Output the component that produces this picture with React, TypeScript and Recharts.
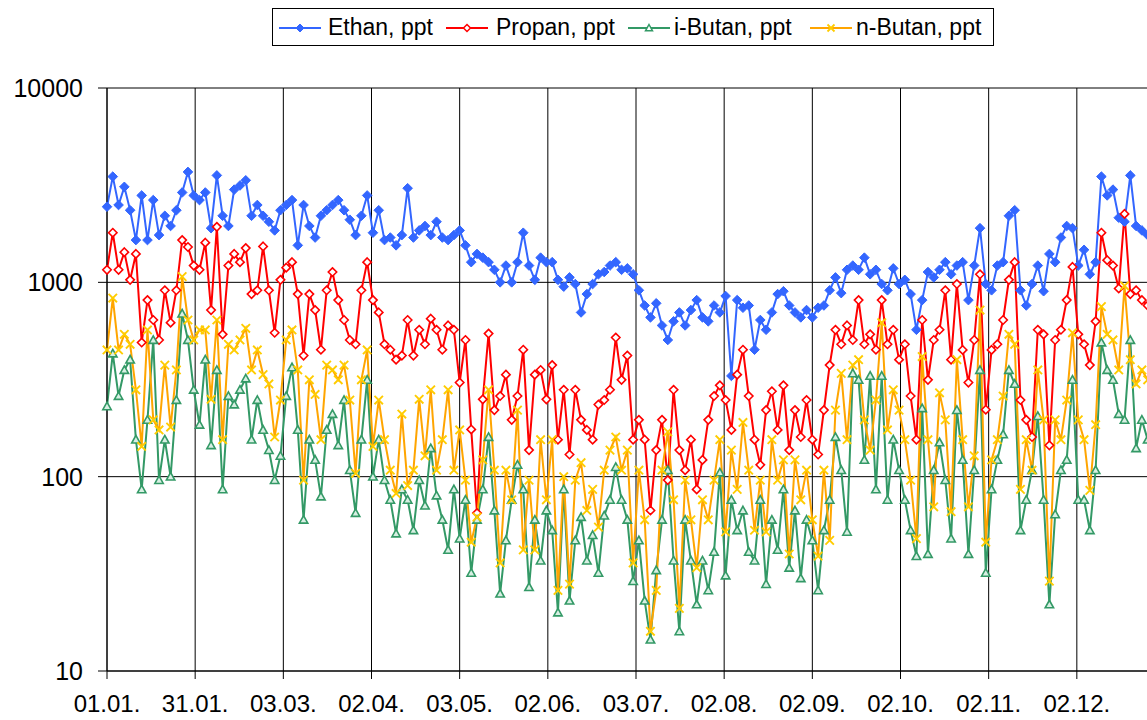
import React from 'react';
import { LineChart, Line, XAxis, YAxis, CartesianGrid } from 'recharts';

// axis ticks (Excel date axis, one tick every 30.5 days)
const TICK_DAYS = [0, 30.5, 61, 91.5, 122, 152.5, 183, 213.5, 244, 274.5, 305, 335.5];
const TICK_LABELS = ['01.01.', '31.01.', '03.03.', '02.04.', '03.05.', '02.06.', '03.07.', '02.08.', '02.09.', '02.10.', '02.11.', '02.12.'];
const Y_TICKS = [10, 100, 1000, 10000];

// values in ppt, one sample every 2 days from 01.01.
const ETHAN = [
  2450, 3500, 2500, 3100, 2350, 1650, 2800, 1650, 2650, 1750,
  2200, 1950, 2350, 2900, 3700, 2800, 2650, 2900, 1900, 3550,
  2200, 1950, 3000, 3150, 3350, 2200, 2500, 2200, 2050, 1850,
  2350, 2500, 2650, 1550, 2500, 1950, 1700, 2200, 2350, 2500,
  2650, 2350, 2100, 1750, 2200, 2800, 1800, 2350, 1650, 1700,
  1550, 1750, 3050, 1700, 1850, 1950, 1750, 2050, 1700, 1650,
  1750, 1850, 1550, 1270, 1400, 1340, 1270, 1160, 1000, 1220,
  1000, 1270, 1800, 1220, 1030, 1340, 1270, 1270, 1030, 950,
  1060, 980, 700, 870, 980, 1100, 1130, 1220, 1270, 1160,
  1180, 1100, 910, 760, 660, 780, 600, 505, 630, 700,
  600, 720, 810, 660, 630, 760, 700, 850, 330, 810,
  740, 760, 450, 640, 570, 700, 870, 900, 760, 700,
  660, 720, 660, 740, 760, 910, 1060, 880, 1160, 1220,
  1160, 1340, 1100, 1160, 980, 910, 1180, 980, 1030, 870,
  570, 810, 1130, 1060, 1160, 1270, 1100, 1220, 1270, 810,
  1220, 1900, 980, 910, 1220, 1270, 2200, 2350, 910, 760,
  980, 1220, 900, 1400, 1270, 1700, 1950, 1900, 1220, 1470,
  1100, 1270, 3500, 2800, 3000, 2150, 2050, 3550, 1950, 1850,
  1750,
];

const PROPAN = [
  1160, 1800, 1160, 1430, 1030, 1400, 490, 810, 640, 505,
  910, 620, 910, 1650, 1520, 1220, 1160, 1600, 720, 1930,
  540, 1220, 1400, 1270, 1500, 870, 910, 1530, 910, 550,
  1030, 1190, 1270, 870, 420, 870, 720, 450, 910, 1130,
  810, 640, 505, 480, 910, 1270, 810, 700, 480, 450,
  400, 420, 640, 420, 570, 480, 650, 570, 450, 600,
  570, 305, 505, 175, 65, 250, 545, 220, 260, 335,
  196, 260, 450, 137, 335, 354, 250, 375, 155, 280,
  130, 280, 196, 174, 155, 235, 248, 280, 520, 315,
  420, 155, 196, 155, 67, 137, 196, 96, 280, 137,
  108, 155, 86, 122, 196, 260, 295, 248, 174, 335,
  450, 260, 155, 115, 220, 275, 174, 295, 137, 220,
  160, 248, 155, 130, 220, 375, 570, 480, 600, 505,
  810, 480, 540, 450, 810, 480, 570, 400, 480, 260,
  155, 640, 315, 505, 570, 910, 400, 980, 449, 305,
  505, 1100, 221, 449, 480, 640, 1030, 1270, 248, 196,
  160, 570, 540, 145, 505, 570, 810, 1200, 540, 480,
  375, 630, 1800, 1300, 1220, 930, 2250, 870, 910, 810,
  760,
];

const IBUTAN = [
  230, 430, 260, 354, 400, 155, 86, 196, 505, 96,
  155, 100, 248, 690, 505, 280, 185, 400, 145, 354,
  86, 260, 235, 280, 320, 155, 248, 174, 137, 96,
  128, 260, 365, 174, 60, 155, 122, 79, 174, 210,
  145, 248, 108, 65, 155, 315, 100, 155, 96, 76,
  51, 86, 76, 53, 96, 71, 140, 80, 60, 42,
  86, 48, 76, 32, 60, 86, 160, 67, 25, 47,
  76, 115, 86, 27, 60, 37, 67, 53, 20, 86,
  23, 47, 62, 37, 50, 32, 63, 76, 112, 76,
  60, 29, 47, 23, 14.5, 33, 60, 108, 37, 16,
  60, 37, 22, 37, 26, 41, 105, 31, 76, 53,
  67, 41, 37, 76, 28, 60, 42, 86, 34, 67,
  30, 60, 47, 26, 53, 76, 160, 108, 52, 340,
  315, 122, 330, 86, 330, 76, 155, 108, 76, 53,
  39, 225, 40, 108, 150, 96, 48, 220, 122, 40,
  108, 354, 32, 86, 122, 165, 354, 300, 53, 76,
  108, 205, 76, 22, 64, 108, 122, 315, 76, 76,
  53, 108, 490, 354, 315, 210, 196, 505, 140, 196,
  155,
];

const NBUTAN = [
  449, 830, 449, 540, 480, 280, 143, 569, 196, 174,
  375, 180, 354, 1070, 640, 505, 569, 569, 250, 640,
  155, 480, 449, 505, 580, 354, 449, 335, 300, 160,
  248, 505, 569, 354, 96, 315, 265, 155, 375, 354,
  315, 375, 248, 104, 315, 449, 143, 248, 155, 108,
  82, 210, 90, 108, 250, 128, 280, 108, 155, 280,
  108, 174, 96, 46, 62, 122, 280, 108, 36, 108,
  76, 220, 42, 96, 42, 155, 76, 155, 26, 100,
  28, 96, 118, 67, 86, 55, 108, 137, 160, 108,
  137, 36, 108, 60, 16, 26, 108, 170, 76, 21,
  96, 60, 34, 76, 60, 96, 155, 52, 137, 86,
  190, 108, 53, 96, 52, 155, 96, 122, 40, 122,
  76, 108, 60, 39, 108, 47, 220, 340, 155, 375,
  400, 196, 137, 248, 620, 174, 280, 220, 155, 96,
  48, 415, 155, 70, 270, 196, 66, 400, 155, 70,
  128, 720, 46, 122, 155, 260, 540, 480, 86, 155,
  108, 354, 196, 29, 196, 155, 248, 550, 196, 155,
  85, 185, 750, 540, 505, 354, 960, 400, 300, 354,
  315,
];

const DAYS = ETHAN.map((_, i) => i * 2);

const data = DAYS.map((day, i) => ({
  day,
  ethan: ETHAN[i],
  propan: PROPAN[i],
  ibutan: IBUTAN[i],
  nbutan: NBUTAN[i],
}));

const FONT = '"Liberation Sans", Arial, sans-serif';

const BLUE = '#3366FF';
const RED = '#FF0000';
const GREEN = '#339966';
const ORANGE = '#FFA500';
const YELLOW = '#FFCC00';

const diamondPath = (cx: number, cy: number, r: number) =>
  `M${cx},${cy - r}L${cx + r},${cy}L${cx},${cy + r}L${cx - r},${cy}Z`;

const trianglePath = (cx: number, cy: number, r: number) =>
  `M${cx},${cy - r}L${cx + r},${cy + r * 0.8}L${cx - r},${cy + r * 0.8}Z`;

const crossPath = (cx: number, cy: number, r: number) =>
  `M${cx - r},${cy - r}L${cx + r},${cy + r}M${cx - r},${cy + r}L${cx + r},${cy - r}`;

const ethanDot = (p: any) => (
  <path key={`e-${p.index}`} d={diamondPath(p.cx, p.cy, 4.8)} fill={BLUE} stroke={BLUE} strokeWidth={1} />
);
const propanDot = (p: any) => (
  <path key={`p-${p.index}`} d={diamondPath(p.cx, p.cy, 4.2)} fill="#fff" stroke={RED} strokeWidth={1.6} />
);
const ibutanDot = (p: any) => (
  <path key={`i-${p.index}`} d={trianglePath(p.cx, p.cy, 4.2)} fill="#d8efe3" stroke={GREEN} strokeWidth={1.6} />
);
const nbutanDot = (p: any) => (
  <path key={`n-${p.index}`} d={crossPath(p.cx, p.cy, 4.2)} fill="none" stroke={YELLOW} strokeWidth={1.9} />
);

const LEGEND = [
  { name: 'Ethan, ppt', line: BLUE, lineX: 279, textX: 328, marker: (cx: number, cy: number) => <path d={diamondPath(cx, cy, 4)} fill={BLUE} stroke={BLUE} /> },
  { name: 'Propan, ppt', line: RED, lineX: 446, textX: 496, marker: (cx: number, cy: number) => <path d={diamondPath(cx, cy, 3.5)} fill="#fff" stroke={RED} strokeWidth={1.5} /> },
  { name: 'i-Butan, ppt', line: GREEN, lineX: 628, textX: 674, marker: (cx: number, cy: number) => <path d={trianglePath(cx, cy, 3.5)} fill="#fff" stroke={GREEN} strokeWidth={1.5} /> },
  { name: 'n-Butan, ppt', line: ORANGE, lineX: 810, textX: 856, marker: (cx: number, cy: number) => <path d={crossPath(cx, cy, 3.5)} stroke={YELLOW} strokeWidth={1.8} /> },
];

const ChartLegend = () => (
  <div
    style={{
      position: 'absolute',
      left: 272,
      top: 8,
      width: 722,
      height: 38,
      border: '1px solid #000',
      background: '#fff',
      boxSizing: 'border-box',
    }}
  >
    {LEGEND.map((item) => (
      <React.Fragment key={item.name}>
        <svg
          width={42}
          height={20}
          style={{ position: 'absolute', left: item.lineX - 273, top: 9 }}
        >
          <line x1={0} y1={10} x2={42} y2={10} stroke={item.line} strokeWidth={2} />
          {item.marker(21, 10)}
        </svg>
        <span
          style={{
            position: 'absolute',
            left: item.textX - 273,
            top: 6,
            fontSize: 23,
            lineHeight: '24px',
            color: '#000',
            whiteSpace: 'nowrap',
          }}
        >
          {item.name}
        </span>
      </React.Fragment>
    ))}
  </div>
);

export default function App() {
  return (
    <div
      style={{
        position: 'absolute',
        left: 0,
        top: 0,
        width: 1147,
        height: 720,
        overflow: 'hidden',
        background: '#fff',
        fontFamily: FONT,
      }}
    >
      <LineChart
        width={1200}
        height={720}
        data={data}
        margin={{ top: 88, right: 35, bottom: 0, left: 0 }}
      >
        <CartesianGrid stroke="#000" strokeWidth={1} />
        <XAxis
          dataKey="day"
          type="number"
          domain={[0, 366]}
          ticks={TICK_DAYS}
          interval={0}
          tickFormatter={(_v: number, i: number) => TICK_LABELS[i]}
          height={49}
          tickSize={8}
          tickMargin={16}
          stroke="#000"
          tick={{ fill: '#000', fontSize: 24, fontFamily: FONT }}
        />
        <YAxis
          scale="log"
          domain={[10, 10000]}
          ticks={Y_TICKS}
          interval={0}
          allowDataOverflow
          width={107}
          tickSize={9}
          tickMargin={15}
          stroke="#000"
          tick={{ fill: '#000', fontSize: 25, fontFamily: FONT }}
        />
        <Line
          dataKey="ethan"
          type="linear"
          stroke={BLUE}
          strokeWidth={2}
          dot={ethanDot}
          activeDot={false}
          isAnimationActive={false}
        />
        <Line
          dataKey="propan"
          type="linear"
          stroke={RED}
          strokeWidth={2}
          dot={propanDot}
          activeDot={false}
          isAnimationActive={false}
        />
        <Line
          dataKey="ibutan"
          type="linear"
          stroke={GREEN}
          strokeWidth={2}
          dot={ibutanDot}
          activeDot={false}
          isAnimationActive={false}
        />
        <Line
          dataKey="nbutan"
          type="linear"
          stroke={ORANGE}
          strokeWidth={2}
          dot={nbutanDot}
          activeDot={false}
          isAnimationActive={false}
        />
      </LineChart>
      <ChartLegend />
    </div>
  );
}
